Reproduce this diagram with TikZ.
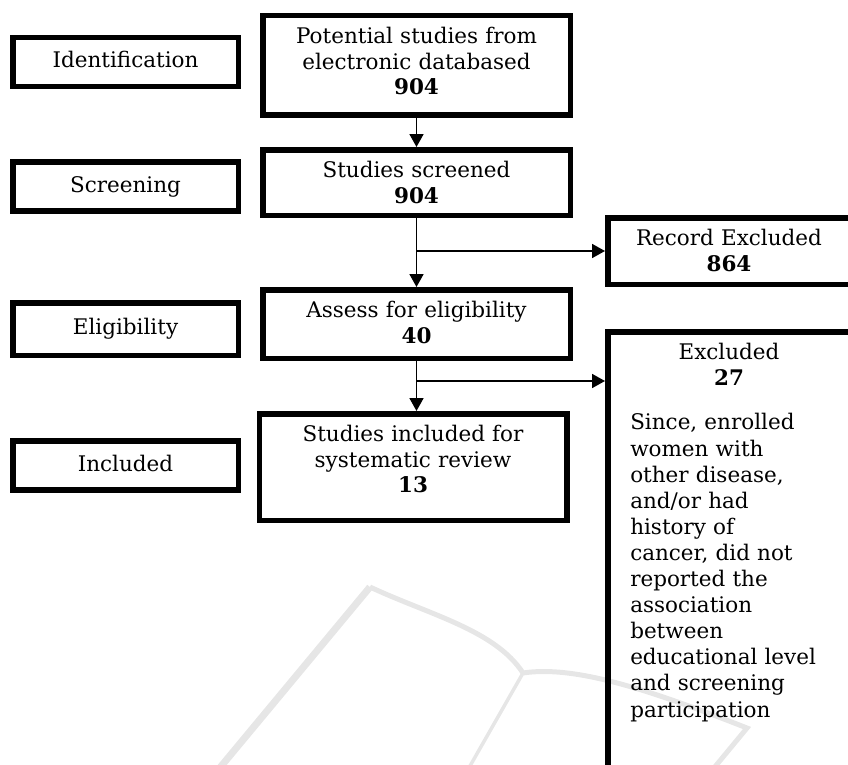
\documentclass[tikz,border=0pt]{standalone}
\usepackage{fontspec}
\setmainfont{DejaVu Serif}
\usetikzlibrary{arrows.meta, positioning}
\definecolor{wmgray}{HTML}{E6E6E6}
\tikzset{
  stage/.style = {rectangle, draw, line width=5.5pt, minimum width=225.5pt, minimum height=49pt, inner sep=0pt, text height=16pt, text depth=5pt},
  block/.style = {rectangle, draw, line width=5.5pt, anchor=north, text width=295.5pt, align=center, inner xsep=6pt, inner ysep=4pt, text height=24pt},
  side/.style = {block, text width=197.5pt, inner xsep=22.5pt},
  arrow/.style = {draw, line width=1.8pt, -{Triangle[length=13pt, width=14pt]}},
  wmline/.style = {draw=wmgray, line join=miter},
}

\begin{document}
\begin{tikzpicture}[x=1pt, y=-1pt, font=\fontsize{21.5}{25.5}\selectfont]

  \useasboundingbox (0,0) rectangle (848,765);
  \clip (0,0) rectangle (848,765);

  % watermark in the background
  \draw [wmline, line width=7pt] (213,776) -- (370,587);
  \draw [wmline, line width=5pt] (370,587) .. controls (430,615) and (495,630) .. (523,673);
  \draw [wmline, line width=3.5pt] (523,673) -- (462,780);
  \draw [wmline, line width=5pt] (523,673) .. controls (575,665) and (650,690) .. (747,728) -- (704,780);

  % stages
  \node (id) [stage] at (125.5,62) {Identification};
  \node (scr) [stage] at (125.5,186.5) {Screening};
  \node (elig) [stage, minimum height=52.5pt] at (125.5,329) {Eligibility};
  \node (inc) [stage] at (125.5,465.5) {Included};

  % main flow
  \node (pot) [block, text depth=67.5pt] at (416.5,13) {Potential studies from\\ electronic databased\\ \textbf{904}};
  \node (scrd) [block, text depth=33.5pt] at (416.5,147) {Studies screened\\ \textbf{904}};
  \node (asm) [block, text depth=36.5pt] at (416.5,287) {Assess for eligibility\\ \textbf{40}};
  \node (incd) [block, text depth=74.5pt] at (413,411) {Studies included for\\ systematic review\\ \textbf{13}};

  % exclusions
  \node (rec) [side, text depth=34.5pt] at (729,215) {Record Excluded\\ \textbf{864}};
  \node (exc) [side, align=left, text depth=423.5pt, font=\fontsize{21.5}{26.1}\selectfont] at (729,329)
    {{\centering Excluded\\ \textbf{27}\par}\vspace{18pt}
     Since, enrolled\\ women with\\ other disease,\\ and/or had\\ history of\\ cancer, did not\\ reported the\\ association\\ between\\ educational level\\ and screening\\ participation};

  \coordinate (b1) at (scrd.south |- rec.west);
  \coordinate (b2) at ([yshift=-20pt]asm.south);

  \draw [arrow] (pot) -- (scrd);
  \draw [arrow] (scrd) -- (asm);
  \draw [arrow] (b1) -- (rec);
  \draw [arrow] (asm) -- (asm |- incd.north);
  \draw [arrow] (b2) -- (b2 -| exc.west);

\end{tikzpicture}
\end{document}
